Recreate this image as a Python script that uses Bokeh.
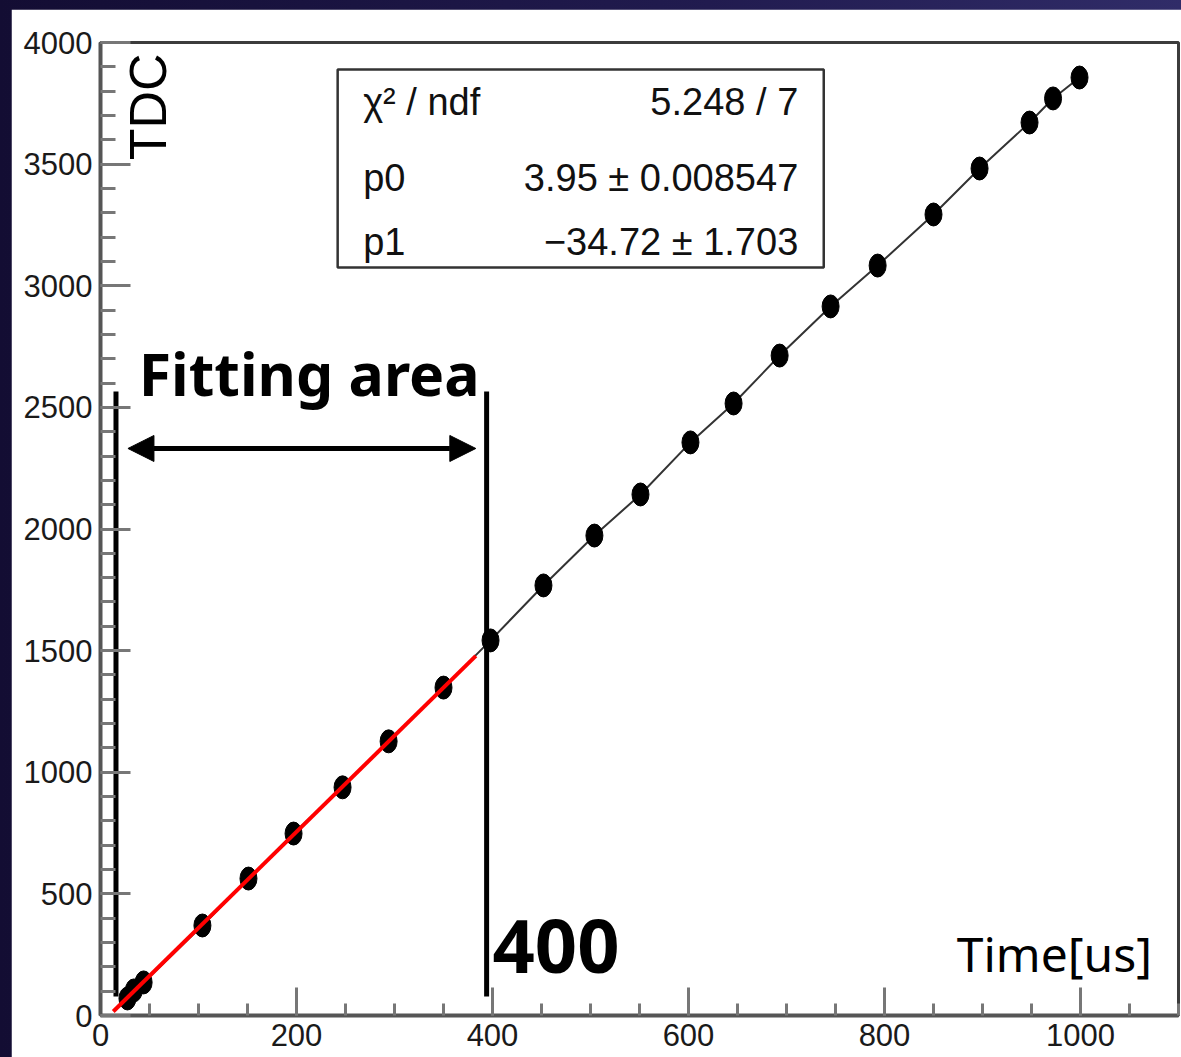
import math
from bokeh.plotting import figure
from bokeh.models import (Range1d, SingleIntervalTicker, Label, BoxAnnotation,
                          Arrow, NormalHead, ColumnDataSource)
from bokeh.layouts import column
from bokeh.embed import file_html
from bokeh.resources import INLINE

# ---- data ----
time_us = [27.5, 34, 44, 104, 151, 197, 247, 294, 350, 398, 452, 504, 551,
           602, 646, 693, 745, 793, 850, 897, 948, 972, 999]
tdc = [70, 103, 136, 370, 563, 748, 938, 1127, 1348, 1542, 1768, 1973, 2142,
       2356, 2516, 2713, 2915, 3083, 3293, 3482, 3671, 3770, 3856]

# fit result (pol1: p0*x + p1) and its range
p0 = 3.95
p1 = -34.72
fit_range = [13, 383]
fit_tdc = [p0 * t + p1 for t in fit_range]

stat_names = ["\u03c7\u00b2 / ndf", "p0", "p1"]
stat_values = ["5.248 / 7", "3.95 \u00b1 0.008547", "\u221234.72 \u00b1 1.703"]

x_label = "Time[us]"
y_label = "TDC"

AXFONT = "Liberation Sans"

p = figure(width=1170, height=1057, x_range=Range1d(0, 1100), y_range=Range1d(0, 4000),
           output_backend="svg", toolbar_location=None,
           min_border_left=89, min_border_right=3, min_border_top=33, min_border_bottom=51)
p.margin = (9, 0, 0, 11)
p.background_fill_color = "white"
p.border_fill_color = "white"
p.outline_line_color = "#3c3c3c"
p.outline_line_width = 3
p.xgrid.visible = False
p.ygrid.visible = False

p.xaxis.ticker = SingleIntervalTicker(interval=200, num_minor_ticks=4)
p.yaxis.ticker = SingleIntervalTicker(interval=500, num_minor_ticks=5)
for ax in (p.xaxis[0], p.yaxis[0]):
    ax.major_tick_out = 0
    ax.minor_tick_out = 0
    ax.major_label_text_font = AXFONT
    ax.major_label_text_font_size = "31px"
    ax.major_label_text_color = "#1a1a1a"
    ax.axis_line_color = "#555555"
    ax.axis_line_width = 4
    ax.major_tick_line_color = "#777777"
    ax.major_tick_line_width = 3
    ax.minor_tick_line_color = "#777777"
    ax.minor_tick_line_width = 3
p.yaxis.major_tick_in = 30
p.yaxis.minor_tick_in = 15
p.xaxis.major_tick_in = 28
p.xaxis.minor_tick_in = 12
p.yaxis.major_label_standoff = 8
p.xaxis.major_label_standoff = 8

src = ColumnDataSource(dict(x=time_us, y=tdc))
p.line("x", "y", source=src, line_color="#333333", line_width=2)
p.ellipse("x", "y", width=17, height=23, width_units="screen", height_units="screen",
          source=src, fill_color="black", line_color="black")
p.line(fit_range, fit_tdc, line_color="#ff0000", line_width=4)

# fitting-area markers
p.segment(x0=[15.8, 394], y0=[78, 78], x1=[15.8, 394], y1=[2565, 2565],
          line_color="black", line_width=5)
p.add_layout(Arrow(start=NormalHead(size=26, fill_color="black", line_color="black"),
                   end=NormalHead(size=26, fill_color="black", line_color="black"),
                   x_start=28, y_start=2331, x_end=383, y_end=2331,
                   line_width=5, line_color="black"))

p.add_layout(Label(x=39, y=2640, text="Fitting area", text_font="Noto Sans",
                   text_font_style="bold", text_font_size="59px", text_color="black",
                   text_baseline="alphabetic"))
p.add_layout(Label(x=400, y=283, text="400", text_font="Noto Sans",
                   text_font_style="bold", text_font_size="74px", text_color="black",
                   text_baseline="alphabetic"))
p.add_layout(Label(x=1073, y=255, text=x_label, text_font="Noto Sans",
                   text_font_size="48px", text_color="black", text_align="right",
                   text_baseline="alphabetic"))
p.add_layout(Label(x=18.5, y=3955, text=y_label, text_font="Liberation Sans",
                   text_font_size="52px", text_color="black", angle=math.pi / 2,
                   text_align="right", text_baseline="top"))

# stats box
p.add_layout(BoxAnnotation(left=242, right=738, bottom=3075, top=3889,
                           fill_color="white", fill_alpha=1.0,
                           line_color="#333333", line_alpha=1.0, line_width=2.5,
                           level="annotation"))
rows_y = [3754, 3445, 3178]
for name, val, yy in zip(stat_names, stat_values, rows_y):
    p.add_layout(Label(x=268, y=yy, text=name, text_font=AXFONT, text_font_size="38px",
                       text_color="#111111", text_baseline="alphabetic"))
    p.add_layout(Label(x=712, y=yy, text=val, text_font=AXFONT, text_font_size="38px",
                       text_color="#111111", text_align="right", text_baseline="alphabetic"))

layout = column(p, width=1181, height=1057, sizing_mode="fixed",
                styles={"background": "linear-gradient(90deg, #130d33 0%, #211b4f 60%, #302c68 100%)",
                        "overflow": "hidden"})

open("out.html", "w").write(file_html(layout, INLINE))
